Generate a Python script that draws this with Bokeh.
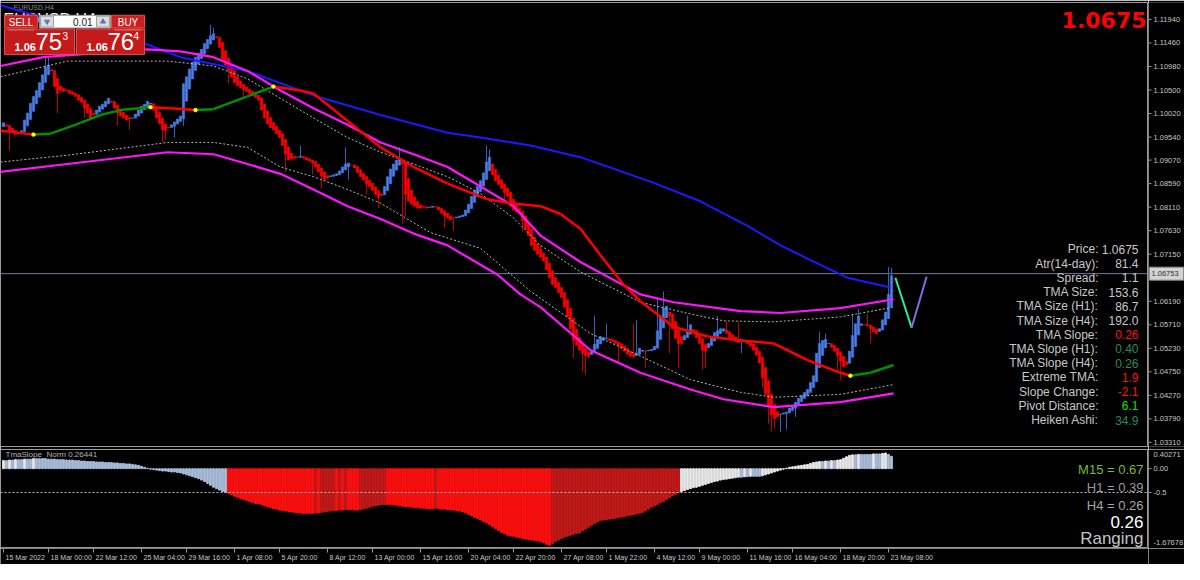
from bokeh.plotting import figure
from bokeh.models import Range1d, Label, Span, ColumnDataSource
from bokeh.layouts import column, row
from bokeh.embed import file_html
from bokeh.resources import INLINE
from bokeh.core.properties import value

# ------------------------------------------------------------------ data
symbol = "EURUSD,H4"
current_price = 1.06753
price_text = "1.0675"

# Heiken Ashi closes, one per H4 bar (bar 0 = 15 Mar 2022)
ha_open_first = 1.0975
ha_close = [
    1.0983, 1.0977, 1.0967, 1.0963, 1.0959, 1.0963, 1.0967, 1.0989, 1.1003, 1.1023,
    1.1037, 1.1049, 1.1065, 1.1081, 1.1097, 1.1101, 1.1089, 1.1057, 1.1043, 1.1049,
    1.1047, 1.1049, 1.1043, 1.1041, 1.1037, 1.1029, 1.1025, 1.1013, 1.1003, 1.0993,
    1.0999, 1.1009, 1.1017, 1.1021, 1.1027, 1.1033, 1.1025, 1.1013, 1.1003, 1.0997,
    1.0993, 1.0989, 1.0991, 1.0993, 1.1001, 1.1009, 1.1017, 1.1021, 1.1027, 1.1023,
    1.1009, 1.0993, 1.0981, 1.0969, 1.0967, 1.0973, 1.0979, 1.0985, 1.0991, 1.0997,
    1.1063, 1.1077, 1.1093, 1.1107, 1.1117, 1.1125, 1.1133, 1.1145, 1.1153, 1.1161,
    1.1165, 1.1157, 1.1137, 1.1113, 1.1101, 1.1089, 1.1077, 1.1065, 1.1059, 1.1055,
    1.1051, 1.1047, 1.1043, 1.1039, 1.1035, 1.1029, 1.1009, 1.0993, 1.0981, 1.0973,
    1.0969, 1.0961, 1.0953, 1.0937, 1.0919, 1.0907, 1.0909, 1.0911, 1.0913, 1.0915,
    1.0911, 1.0907, 1.0905, 1.0901, 1.0893, 1.0883, 1.0875, 1.0867, 1.0871, 1.0875,
    1.0877, 1.0879, 1.0885, 1.0893, 1.0899, 1.0901, 1.0897, 1.0891, 1.0881, 1.0873,
    1.0867, 1.0859, 1.0853, 1.0845, 1.0837, 1.0831, 1.0835, 1.0853, 1.0873, 1.0889,
    1.0899, 1.0907, 1.0911, 1.0899, 1.0837, 1.0823, 1.0817, 1.0813, 1.0809, 1.0809,
    1.0811, 1.0809, 1.0811, 1.0813, 1.0811, 1.0805, 1.0799, 1.0793, 1.0789, 1.0785,
    1.0789, 1.0791, 1.0793, 1.0795, 1.0805, 1.0817, 1.0833, 1.0845, 1.0853, 1.0865,
    1.0881, 1.0903, 1.0913, 1.0877, 1.0865, 1.0857, 1.0849, 1.0841, 1.0833, 1.0813,
    1.0805, 1.0801, 1.0797, 1.0783, 1.0767, 1.0753, 1.0733, 1.0723, 1.0715, 1.0709,
    1.0701, 1.0683, 1.0667, 1.0653, 1.0647, 1.0637, 1.0627, 1.0607, 1.0587, 1.0563,
    1.0539, 1.0529, 1.0519, 1.0513, 1.0509, 1.0505, 1.0517, 1.0531, 1.0541, 1.0547,
    1.0545, 1.0543, 1.0539, 1.0537, 1.0533, 1.0529, 1.0523, 1.0517, 1.0511, 1.0507,
    1.0505, 1.0513, 1.0523, 1.0519, 1.0517, 1.0519, 1.0521, 1.0527, 1.0559, 1.0589,
    1.0605, 1.0609, 1.0589, 1.0563, 1.0543, 1.0533, 1.0533, 1.0549, 1.0559, 1.0571,
    1.0557, 1.0545, 1.0533, 1.0519, 1.0517, 1.0533, 1.0547, 1.0555, 1.0559, 1.0563,
    1.0563, 1.0553, 1.0545, 1.0541, 1.0537, 1.0535, 1.0541, 1.0539, 1.0533, 1.0527,
    1.0519, 1.0509, 1.0493, 1.0463, 1.0429, 1.0403, 1.0387, 1.0379, 1.0383, 1.0389,
    1.0391, 1.0393, 1.0401, 1.0405, 1.0413, 1.0421, 1.0427, 1.0433, 1.0439, 1.0453,
    1.0467, 1.0513, 1.0533, 1.0539, 1.0541, 1.0533, 1.0525, 1.0517, 1.0509, 1.0497,
    1.0485, 1.0489, 1.0517, 1.0549, 1.0573, 1.0589, 1.0573, 1.0571, 1.0569, 1.0563,
    1.0557, 1.0553, 1.0563, 1.0581, 1.0597, 1.0633, 1.0671,
]
# visible wick extremes (bar index, price)
wick_hi_bar = [14, 15, 69, 70, 99, 114, 132, 161, 162, 179, 197, 201, 210, 211, 218, 220,
               228, 238, 241, 245, 272, 274, 283, 285, 288, 295, 296]
wick_hi_val = [1.1119, 1.1117, 1.1183, 1.1177, 1.0937, 1.0933, 1.0933, 1.0937, 1.0929, 1.0733,
               1.0589, 1.0573, 1.0573, 1.0581, 1.0623, 1.0639, 1.0589, 1.0589, 1.0579, 1.0577,
               1.0557, 1.0553, 1.0593, 1.0603, 1.0593, 1.0689, 1.0687]
wick_lo_bar = [2, 18, 27, 38, 42, 53, 54, 57, 60, 75, 80, 94, 103, 106, 115, 121, 125, 133,
               134, 147, 150, 167, 173, 190, 193, 194, 205, 214, 222, 225, 233, 234, 246, 253,
               255, 256, 257, 259, 261, 264, 278, 279, 289]
wick_lo_val = [1.0927, 1.1003, 1.0993, 1.0977, 1.0969, 1.0943, 1.0949, 1.0953, 1.0977, 1.1063,
               1.1033, 1.0883, 1.0877, 1.0849, 1.0867, 1.0837, 1.0809, 1.0777, 1.0793, 1.0769,
               1.0763, 1.0821, 1.0761, 1.0503, 1.0477, 1.0469, 1.0493, 1.0483, 1.0513, 1.0483,
               1.0479, 1.0483, 1.0513, 1.0443, 1.0369, 1.0353, 1.0359, 1.0353, 1.0357, 1.0383,
               1.0473, 1.0457, 1.0533]

# moving average (blue)
ma_bar = [-1, 9, 48, 59, 81.3, 103.3, 125.7, 148, 159, 175.7, 192.3, 215.7, 232.3, 248, 259, 269, 281.3, 295.7]
ma_val = [1.1223, 1.1205, 1.1143, 1.1117, 1.1089, 1.1039, 1.0999, 1.0963, 1.0953, 1.0937,
          1.0913, 1.0863, 1.0823, 1.0773, 1.0733, 1.0703, 1.0667, 1.0647]

# TMA channel
band_bar = [-1, 13.3, 48, 59, 70, 81.3, 92.3, 103.3, 114.7, 125.7, 136.7, 148, 159, 170, 179,
            192.3, 212.3, 223.3, 245.7, 259, 279, 296.7]
band_upper = [1.1099, 1.1117, 1.1133, 1.1129, 1.1117, 1.1089, 1.1049, 1.1013, 1.0979, 1.0943,
              1.0919, 1.0893, 1.0853, 1.0813, 1.0753, 1.0699, 1.0633, 1.0617, 1.0599, 1.0595,
              1.0605, 1.0623]
low_bar = [-1, 21.3, 54.7, 70, 81.3, 92.3, 103.3, 114.7, 125.7, 136.7, 148, 164.7, 172.3, 179,
           195.7, 212.3, 229, 240, 256.7, 279, 296.7]
band_lower = [1.0883, 1.0899, 1.0923, 1.0919, 1.0899, 1.0879, 1.0847, 1.0813, 1.0787, 1.0757,
              1.0733, 1.0673, 1.0633, 1.0607, 1.0519, 1.0473, 1.0439, 1.0419, 1.0403, 1.0413,
              1.0431]
inner_up_bar = [-1, 21.3, 54.7, 70, 81.3, 92.3, 103.3, 114.7, 125.7, 136.7, 148, 159, 170, 179,
                192.3, 212.3, 229, 240, 256.7, 279, 296.7]
inner_upper = [1.1077, 1.1109, 1.1109, 1.1099, 1.1073, 1.1033, 1.0993, 1.0953, 1.0923, 1.0899,
               1.0873, 1.0839, 1.0789, 1.0733, 1.0679, 1.0617, 1.0593, 1.0579, 1.0577, 1.0587,
               1.0607]
inner_lo_bar = [-1, 21.3, 54.7, 70, 81.3, 92.3, 103.3, 114.7, 125.7, 142.3, 159, 175.7, 195.7,
                212.3, 229, 245.7, 256.7, 279, 296.7]
inner_lower = [1.0903, 1.0917, 1.0943, 1.0943, 1.0933, 1.0893, 1.0873, 1.0847, 1.0819, 1.0759,
               1.0727, 1.0639, 1.0553, 1.0507, 1.0459, 1.0433, 1.0423, 1.0429, 1.0449]

# TMA centre line with slope state ("up" green, "down" red) of the segment that starts at each point
tma_bar = [-1, 2.3, 10, 15.7, 25.7, 32.3, 39, 49, 55.7, 64, 70, 81.3, 90, 99, 103.3, 114.7,
           125.7, 136.7, 148, 161.3, 169, 179, 185.7, 192.3, 199, 206.7, 212.3, 223.3, 234.7,
           245.7, 256.7, 268, 279, 282.3, 289, 296.7]
tma_val = [1.0967, 1.0965, 1.0959, 1.0961, 1.0983, 1.0999, 1.1009, 1.1015, 1.1013, 1.1009,
           1.1011, 1.1037, 1.1057, 1.1049, 1.1043, 1.0987, 1.0933, 1.0893, 1.0859, 1.0827,
           1.0819, 1.0813, 1.0797, 1.0767, 1.0713, 1.0653, 1.0619, 1.0567, 1.0547, 1.0539,
           1.0533, 1.0499, 1.0473, 1.0467, 1.0473, 1.0489]
tma_state = ["down", "down", "up", "up", "up", "up", "up", "down", "down", "up", "up", "up",
             "down", "down", "down", "down", "down", "down", "down", "down", "down", "down",
             "down", "down", "down", "down", "down", "down", "down", "down", "down", "down",
             "down", "up", "up", "up"]

# projection lines at the right of the last bar
proj_bar = [297.3, 302.7, 307.7]
proj_val = [1.0667, 1.0565, 1.0669]

# TmaSlope_Norm histogram
slope_norm = [
    0.17, 0.17, 0.18, 0.18, 0.19, 0.19, 0.19, 0.20, 0.20, 0.20, 0.21, 0.21, 0.21,
    0.21, 0.21, 0.20, 0.20, 0.20, 0.19, 0.19, 0.19, 0.18, 0.18, 0.18, 0.17, 0.17,
    0.16, 0.16, 0.15, 0.15, 0.15, 0.14, 0.14, 0.14, 0.13, 0.13, 0.13, 0.12, 0.12, 0.11,
    0.11, 0.10, 0.10, 0.09, 0.08, 0.07,
    0.05, 0.03, 0.01, -0.01,
    -0.02, -0.03, -0.04, -0.05, -0.05, -0.06, -0.07, -0.07, -0.08, -0.09,
    -0.11, -0.13, -0.15, -0.17, -0.19, -0.21,
    -0.24, -0.27, -0.31, -0.35, -0.39, -0.42, -0.45, -0.48, -0.50,
    -0.52, -0.55, -0.58, -0.60, -0.63, -0.65, -0.67, -0.69, -0.71, -0.73, -0.74,
    -0.76, -0.78, -0.80, -0.82, -0.84, -0.85, -0.87, -0.88, -0.89, -0.90,
    -0.91, -0.92, -0.93, -0.93, -0.94, -0.94, -0.94, -0.94, -0.93, -0.93,
    -0.92, -0.91, -0.90, -0.89, -0.88, -0.88, -0.87, -0.87, -0.86, -0.86,
    -0.86, -0.87, -0.87, -0.86, -0.85, -0.83, -0.81, -0.79, -0.78,
    -0.77, -0.76, -0.75, -0.75, -0.75, -0.76, -0.77, -0.78,
    -0.79, -0.80, -0.80, -0.81, -0.82, -0.82, -0.83,
    -0.83, -0.84, -0.84, -0.84, -0.83, -0.84, -0.85, -0.85, -0.86, -0.87, -0.87, -0.88, -0.89,
    -0.91, -0.93, -0.96, -0.99, -1.02, -1.05, -1.08, -1.11, -1.14, -1.18,
    -1.22, -1.26, -1.30, -1.34, -1.37, -1.40, -1.41,
    -1.42, -1.44, -1.45, -1.47, -1.48, -1.49, -1.50, -1.51, -1.52, -1.53,
    -1.56, -1.59, -1.61,
    -1.57, -1.53, -1.50, -1.47, -1.44,
    -1.42, -1.40, -1.38, -1.36, -1.35,
    -1.31, -1.27, -1.23, -1.19, -1.15, -1.12, -1.09,
    -1.08, -1.07, -1.06, -1.05, -1.04, -1.03,
    -1.02, -1.01, -0.99, -0.98, -0.97, -0.95, -0.94,
    -0.92, -0.89, -0.85, -0.81, -0.78, -0.75,
    -0.72, -0.69, -0.65, -0.61, -0.57, -0.54, -0.51,
    -0.48, -0.46, -0.44, -0.42, -0.40, -0.39, -0.37,
    -0.35, -0.33, -0.31, -0.29, -0.27, -0.26, -0.24, -0.23, -0.22, -0.21,
    -0.20, -0.19, -0.18, -0.18, -0.17, -0.17, -0.16, -0.16, -0.16, -0.16,
    -0.15, -0.13, -0.11, -0.09, -0.07, -0.05, -0.03,
    -0.01, 0.01, 0.03, 0.04, 0.05, 0.06,
    0.07, 0.08, 0.09, 0.11,
    0.13, 0.14, 0.15, 0.15, 0.16, 0.16, 0.17, 0.17, 0.18, 0.19,
    0.22, 0.25, 0.28,
    0.29, 0.29, 0.30, 0.30, 0.30, 0.30, 0.30, 0.31, 0.31, 0.31, 0.32, 0.33, 0.30, 0.26,
]
slope_threshold = -0.5
slope_title = "TmaSlope_Norm 0.26441"
slope_min, slope_max = -1.67678, 0.40271
slope_ticks = [0.40271, 0.0, -0.5, -1.67678]
slope_tick_text = ["0.40271", "0.00", "-0.5", "-1.67678"]

price_ticks = [1.11940, 1.11460, 1.10980, 1.10500, 1.10020, 1.09540, 1.09070, 1.08590,
               1.08110, 1.07630, 1.07150, 1.06670, 1.06190, 1.05710, 1.05230, 1.04750,
               1.04270, 1.03790, 1.03310]
price_min, price_max = 1.03226, 1.12286

time_tick_bars = [0, 15, 30, 46, 61, 77, 92, 108, 123, 139, 155, 170, 186, 201, 217, 232, 248, 263, 279, 295]
time_tick_text = ["15 Mar 2022", "18 Mar 00:00", "22 Mar 12:00", "25 Mar 04:00", "29 Mar 16:00",
                  "1 Apr 08:00", "5 Apr 20:00", "8 Apr 12:00", "13 Apr 00:00", "15 Apr 16:00",
                  "20 Apr 04:00", "22 Apr 20:00", "27 Apr 08:00", "1 May 22:00", "4 May 12:00",
                  "9 May 00:00", "11 May 16:00", "16 May 04:00", "18 May 20:00", "23 May 08:00"]

info_labels = ["Price:", "Atr(14-day):", "Spread:", "TMA Size:", "TMA Size (H1):", "TMA Size (H4):",
               "TMA Slope:", "TMA Slope (H1):", "TMA Slope (H4):", "Extreme TMA:", "Slope Change:",
               "Pivot Distance:", "Heiken Ashi:"]
info_values = ["1.0675", "81.4", "1.1", "153.6", "86.7", "192.0", "0.26", "0.40", "0.26", "1.9",
               "-2.1", "6.1", "34.9"]
info_value_colors = ["#c8c8c8", "#c8c8c8", "#c8c8c8", "#c8c8c8", "#c8c8c8", "#c8c8c8",
                     "#ff1010", "#2e8b57", "#2e8b57", "#ff1010", "#ff1010", "#00e600", "#2e8b57"]

tf_texts = ["M15 = 0.67", "H1 = 0.39", "H4 = 0.26", "0.26", "Ranging"]
tf_colors = ["#7cba2a", "#9a9a9a", "#a6a6a6", "#ffffff", "#c4c4c4"]

sell_label, buy_label, lot_text = "SELL", "BUY", "0.01"
sell_big, sell_sup, buy_big, buy_sup, quote_head = "75", "3", "76", "4", "1.06"

# ------------------------------------------------------------------ layout constants
FONT = "Liberation Sans"
FRAME_W = 1148
AX_W = 36
MAIN_H = 444
LOW_H = 99
TIME_H = 16
PX_PER_BAR = 3.0
X0 = -1.0
x_range = Range1d(X0, X0 + FRAME_W / PX_PER_BAR)
BG = "#000000"
GRID = "#9a9a9a"
AXIS_TEXT = "#c8c8c8"


def bar_x(px):           # reference pixel column (from left) -> bar coordinate
    return (px - 3) / PX_PER_BAR


def right_x(px):         # pixels from the right frame edge -> bar coordinate
    return x_range.end - px / PX_PER_BAR


def main_y(py):          # reference pixel row -> price
    return 1.12326 - 0.0002 * py


def low_y_from_bottom(px):   # pixels above the bottom of the indicator frame -> slope value
    return slope_min + px * (slope_max - slope_min) / LOW_H


def add_label(fig, x, y, text, color, size, align="left", bold=False, font=FONT, baseline="middle",
              **kw):
    fig.add_layout(Label(x=x, y=y, text=text, text_color=color, text_font_size=size,
                         text_align=align, text_baseline=baseline, text_font=font,
                         text_font_style="bold" if bold else "normal", **kw))


def panel(frame_w, frame_h, xr, yr, top_b, bottom_b, outline):
    f = figure(frame_width=frame_w, frame_height=frame_h, x_range=xr, y_range=yr,
               output_backend="svg", toolbar_location=None, x_axis_location=None,
               y_axis_location=None, background_fill_color=BG, border_fill_color=BG,
               min_border_left=0, min_border_right=0, min_border_top=top_b,
               min_border_bottom=bottom_b, outline_line_color=outline)
    f.grid.visible = False
    return f


def price_scale(f, ticks, label_pos, labels):
    k = len(ticks)
    f.segment(x0=[0] * k, y0=ticks, x1=[3] * k, y1=ticks, line_color=GRID, line_width=1)
    f.text(x=[5] * k, y=label_pos, text=labels, text_font=value(FONT), text_font_size="7.5px",
           text_color=AXIS_TEXT, text_baseline="middle", text_align="left")


# ------------------------------------------------------------------ main chart
p = panel(FRAME_W, MAIN_H, x_range, Range1d(price_min, price_max), 2, 3, GRID)

# chart symbol (partly hidden behind the trade panel)
p.text(x=[bar_x(3)], y=[main_y(19)], text=[symbol], text_font=value(FONT), text_font_size="16px",
       text_color="#ffffff", text_baseline="alphabetic")
p.text(x=[bar_x(13)], y=[main_y(7.5)], text=[symbol], text_font=value(FONT), text_font_size="7px",
       text_color="#8a8a8a", text_baseline="alphabetic")

p.add_layout(Span(location=current_price, dimension="width", line_color="#6c7e98", line_width=1,
                  level="underlay"))

# Heiken Ashi candles (open = midpoint of the previous body)
n = len(ha_close)
bars = list(range(n))
ha_open = [ha_open_first]
for i in range(1, n):
    ha_open.append((ha_open[i - 1] + ha_close[i - 1]) / 2.0)
top = [max(o, c) for o, c in zip(ha_open, ha_close)]
bottom = [min(o, c) for o, c in zip(ha_open, ha_close)]
hi = list(top)
lo = list(bottom)
for b, v in zip(wick_hi_bar, wick_hi_val):
    if b < n:
        hi[b] = max(hi[b], v)
for b, v in zip(wick_lo_bar, wick_lo_val):
    if b < n:
        lo[b] = min(lo[b], v)
up = [c >= o for o, c in zip(ha_open, ha_close)]
body_col = ["#4a7de6" if u else "#ff0000" for u in up]
wick_col = ["#3560c0" if u else "#c00000" for u in up]
src = ColumnDataSource(dict(x=bars, top=top, bottom=bottom, hi=hi, lo=lo, c=body_col, w=wick_col))
p.segment(x0="x", y0="lo", x1="x", y1="hi", line_color="w", line_width=1, source=src)
p.vbar(x="x", width=0.8, top="top", bottom="bottom", fill_color="c", line_color="c",
       line_width=0.5, source=src)

# channel + averages
p.line(ma_bar, ma_val, line_color="#1a1aff", line_width=2)
p.line(inner_up_bar, inner_upper, line_color="#b4b4b4", line_width=1, line_dash="2 2")
p.line(inner_lo_bar, inner_lower, line_color="#b4b4b4", line_width=1, line_dash="2 2")
p.line(band_bar, band_upper, line_color="#ff14ff", line_width=2.2)
p.line(low_bar, band_lower, line_color="#ff14ff", line_width=2.2)

seg_col = ["#009000" if s == "up" else "#ff0000" for s in tma_state[:-1]]
p.segment(x0=tma_bar[:-1], y0=tma_val[:-1], x1=tma_bar[1:], y1=tma_val[1:], line_color=seg_col,
          line_width=2.5)
turn_x = [tma_bar[i] for i in range(1, len(tma_bar) - 1) if tma_state[i] != tma_state[i - 1]]
turn_y = [tma_val[i] for i in range(1, len(tma_bar) - 1) if tma_state[i] != tma_state[i - 1]]
p.scatter(turn_x, turn_y, size=3.5, color="#ffff00")

p.line(proj_bar[:2], proj_val[:2], line_color="#2ef08a", line_width=2)
p.line(proj_bar[1:], proj_val[1:], line_color="#8a6ae0", line_width=2)


# one-click trading panel
def box(l, t, r, b, fill, line="#e45050"):
    p.quad(left=bar_x(l), right=bar_x(r), top=main_y(t), bottom=main_y(b), fill_color=fill,
           line_color=line, line_width=1)


box(4, 15, 37, 28, "#cc2020")
box(111, 15, 144, 28, "#cc2020")
box(4, 29, 74, 55, "#c41a1a")
box(76, 29, 144, 55, "#c41a1a")
box(39, 15, 110, 28, "#ffffff", "#9a9a9a")
box(40, 16, 53, 27, "#dcdcdc", "#a0a0a0")
box(96, 16, 109, 27, "#dcdcdc", "#a0a0a0")
p.scatter([bar_x(46.5)], [main_y(21.5)], marker="inverted_triangle", size=5, color="#5a78b0")
p.scatter([bar_x(102.5)], [main_y(21.5)], marker="triangle", size=5, color="#5a78b0")
p.segment(x0=[bar_x(8), bar_x(114)], y0=[main_y(30)] * 2, x1=[bar_x(34), bar_x(141)],
          y1=[main_y(30)] * 2, line_color="#e87070", line_width=1)

add_label(p, bar_x(20.5), main_y(22), sell_label, "#ffffff", "10px", align="center")
add_label(p, bar_x(127.5), main_y(22), buy_label, "#ffffff", "10px", align="center")
add_label(p, bar_x(92), main_y(22), lot_text, "#202020", "10px", align="right")
add_label(p, bar_x(14), main_y(47), quote_head, "#ffffff", "11px", bold=True)
add_label(p, bar_x(35), main_y(42), sell_big, "#ffffff", "24px")
add_label(p, bar_x(62), main_y(36), sell_sup, "#ffffff", "10px")
add_label(p, bar_x(86), main_y(47), quote_head, "#ffffff", "11px", bold=True)
add_label(p, bar_x(107), main_y(42), buy_big, "#ffffff", "24px")
add_label(p, bar_x(133), main_y(36), buy_sup, "#ffffff", "10px")

# price in the corner
add_label(p, right_x(2), main_y(20), price_text, "#ff0000", "22px", align="right", bold=True,
          font="DejaVu Sans")

# info panel
for k, (lab, val, col) in enumerate(zip(info_labels, info_values, info_value_colors)):
    yy = main_y(254 + 14.5 * k)
    add_label(p, right_x(50), yy, lab, "#c8c8c8", "12px", align="right")
    add_label(p, right_x(10), yy, val, col, "12px", align="right")

# price scale strip
pa = panel(AX_W, MAIN_H, Range1d(0, AX_W), p.y_range, 2, 3, None)
price_scale(pa, price_ticks, price_ticks, ["%.5f" % t for t in price_ticks])
half_box = 6.5 * (price_max - price_min) / MAIN_H
pa.quad(left=1, right=AX_W - 1, top=current_price + half_box, bottom=current_price - half_box,
        fill_color="#d4d4d4", line_color="#8a8a8a", line_width=1)
pa.text(x=[3], y=[current_price], text=["%.5f" % current_price], text_font=value(FONT),
        text_font_size="7.5px", text_color="#303030", text_baseline="middle", text_align="left")

# ------------------------------------------------------------------ indicator panel
q = panel(FRAME_W, LOW_H, x_range, Range1d(slope_min, slope_max), 0, 0, GRID)

hist_col = []
for i, v in enumerate(slope_norm):
    rising = i == 0 or v > slope_norm[i - 1]
    if v < slope_threshold:
        hist_col.append("#c21a1a" if rising else "#ff1010")
    else:
        hist_col.append("#e8e8e8" if rising else "#a9bddb")
q.vbar(x=list(range(len(slope_norm))), width=0.6, top=slope_norm, bottom=0, color=hist_col)
q.add_layout(Span(location=slope_threshold, dimension="width", line_color="#c0c0c0",
                  line_width=1, line_dash="2 2"))

add_label(q, bar_x(5), low_y_from_bottom(LOW_H - 5), slope_title, "#b4b4b4", "8px")
tf_sizes = ["13px", "13px", "13px", "17px", "17px"]
tf_rows = [79, 61, 43, 27, 10]     # pixels above the frame bottom
for t, c, s, r in zip(tf_texts, tf_colors, tf_sizes, tf_rows):
    add_label(q, right_x(5), low_y_from_bottom(r), t, c, s, align="right")

qa = panel(AX_W, LOW_H, Range1d(0, AX_W), q.y_range, 0, 0, None)
# edge labels sit inside the panel, as on the terminal
slope_label_pos = [min(max(t, low_y_from_bottom(6)), low_y_from_bottom(LOW_H - 5)) for t in slope_ticks]
price_scale(qa, slope_ticks, slope_label_pos, slope_tick_text)

# ------------------------------------------------------------------ time scale strip
ts = panel(FRAME_W, TIME_H, x_range, Range1d(0, TIME_H), 0, 0, None)
ts.segment(x0=time_tick_bars, y0=[TIME_H] * len(time_tick_bars), x1=time_tick_bars,
           y1=[TIME_H - 4] * len(time_tick_bars), line_color=GRID, line_width=1)
ts.text(x=[b + 0.7 for b in time_tick_bars], y=[TIME_H - 9] * len(time_tick_bars),
        text=time_tick_text, text_font=value(FONT), text_font_size="7px", text_color=AXIS_TEXT,
        text_baseline="middle", text_align="left")
tsa = panel(AX_W, TIME_H, Range1d(0, AX_W), Range1d(0, TIME_H), 0, 0, None)

layout = column(row(p, pa, spacing=0), row(q, qa, spacing=0), row(ts, tsa, spacing=0), spacing=0)
open("out.html", "w").write(file_html(layout, INLINE))
